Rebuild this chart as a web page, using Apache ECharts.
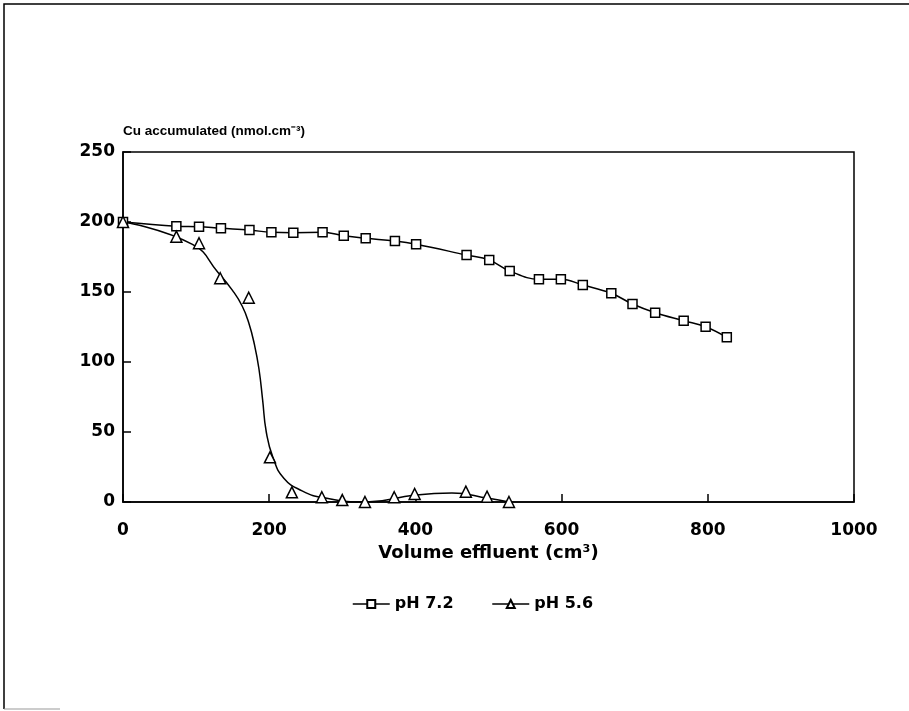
<!DOCTYPE html>
<html>
<head>
<meta charset="utf-8">
<script src="https://cdn.jsdelivr.net/npm/echarts@6/dist/echarts.min.js"></script>
<style>
html,body{margin:0;padding:0;background:#fff;}
#chart{width:909px;height:711px;}
</style>
</head>
<body>
<div id="chart"></div>
<script>
// pH 7.2 measurements
const volume72 = [0, 73, 104, 134, 173, 203, 233, 273, 302, 332, 372, 401, 470, 501, 529, 569, 599, 629, 668, 697, 728, 767, 797, 826];
const cu72 = [200, 197, 196.6, 195.5, 194.3, 192.6, 192.4, 192.6, 190.2, 188.4, 186.4, 184.1, 176.4, 172.9, 165, 159.1, 159.1, 155, 149.1, 141.4, 135.2, 129.5, 125.2, 117.6];
// pH 5.6 measurements
const volume56 = [0, 73, 104, 133, 172, 201, 231, 272, 300, 331, 371, 399, 469, 498, 528];
const cu56 = [200, 189.5, 184.8, 159.8, 145.9, 31.9, 6.9, 3.4, 1.4, 0, 3.4, 5.7, 7.4, 3.8, 0];
// pH 5.6 fitted curve
const fitVolume56 = [0, 95, 130, 150, 163, 172, 180, 186, 191, 196, 205, 220, 245, 275, 333, 400, 450, 500, 528];
const fitCu56 = [200, 184, 164, 151, 140, 128, 112, 95, 73, 50, 32, 17, 8, 3, 0, 5, 6.4, 2.6, 0];
// axes
const xTickValues = [0, 200, 400, 600, 800, 1000];
const yTickValues = [0, 50, 100, 150, 200, 250];
const seriesNames = ['pH 7.2', 'pH 5.6'];
const xName = 'Volume effluent (cm³)';
const yName = 'Cu accumulated (nmol.cm⁻³)';

const pairs = (xs, ys) => xs.map((x, i) => [x, ys[i]]);
const FONT = 'DejaVu Sans';

const chart = echarts.init(document.getElementById('chart'), null, {renderer: 'canvas'});
chart.setOption({
  backgroundColor: '#fff',
  animation: false,
  grid: {left: 123, right: 55, top: 152, bottom: 209, show: true, borderColor: '#000', borderWidth: 1.5, containLabel: false},
  xAxis: {
    type: 'value', min: xTickValues[0], max: xTickValues[xTickValues.length - 1], interval: 200,
    name: xName, nameLocation: 'middle', nameGap: 42,
    nameTextStyle: {fontFamily: FONT, fontWeight: 'bold', fontSize: 18, color: '#000'},
    axisLine: {show: true, lineStyle: {color: '#000', width: 1.5}},
    axisTick: {show: true, inside: true, length: 8, lineStyle: {color: '#000', width: 1.5}},
    axisLabel: {fontFamily: FONT, fontWeight: 'bold', fontSize: 17, color: '#000', margin: 20, formatter: v => String(v)},
    splitLine: {show: false}
  },
  yAxis: {
    type: 'value', min: yTickValues[0], max: yTickValues[yTickValues.length - 1], interval: 50,
    name: yName, nameLocation: 'end', nameGap: 21,
    nameTextStyle: {fontFamily: 'Liberation Sans', fontWeight: 'bold', fontSize: 13.5, color: '#000', align: 'left', verticalAlign: 'middle'},
    axisLine: {show: true, lineStyle: {color: '#000', width: 1.5}},
    axisTick: {show: true, inside: true, length: 8, lineStyle: {color: '#000', width: 1.5}},
    axisLabel: {fontFamily: FONT, fontWeight: 'bold', fontSize: 17, color: '#000', margin: 8, formatter: v => String(v)},
    splitLine: {show: false}
  },
  legend: {
    data: seriesNames,
    left: 347, top: 591,
    itemWidth: 37, itemHeight: 10, itemGap: 38,
    textStyle: {fontFamily: FONT, fontWeight: 'bold', fontSize: 16, color: '#000'},
    lineStyle: {color: '#000', width: 1.5, opacity: 1}
  },
  series: [
    {
      name: seriesNames[0], type: 'line', data: pairs(volume72, cu72),
      smooth: 0.4, symbol: 'rect', symbolSize: 9, z: 3,
      lineStyle: {color: '#000', width: 1.5},
      itemStyle: {color: '#fff', borderColor: '#000', borderWidth: 1.5}
    },
    {
      name: seriesNames[1] + ' fit', type: 'line', data: pairs(fitVolume56, fitCu56),
      smooth: 0.5, showSymbol: false, symbol: 'none', z: 2,
      lineStyle: {color: '#000', width: 1.5}, silent: true
    },
    {
      name: seriesNames[1], type: 'line', data: pairs(volume56, cu56),
      symbol: 'triangle', symbolSize: 11, z: 4,
      lineStyle: {color: '#000', width: 1.5, opacity: 0},
      itemStyle: {color: '#fff', borderColor: '#000', borderWidth: 1.5}
    }
  ],
  graphic: [
    {type: 'polyline', shape: {points: [[4, 709], [4, 4], [909, 4]]}, style: {stroke: '#000', lineWidth: 1.5, fill: null}},
    {type: 'line', shape: {x1: 4, y1: 709, x2: 60, y2: 709}, style: {stroke: '#999', lineWidth: 1}}
  ]
});
</script>
</body>
</html>
